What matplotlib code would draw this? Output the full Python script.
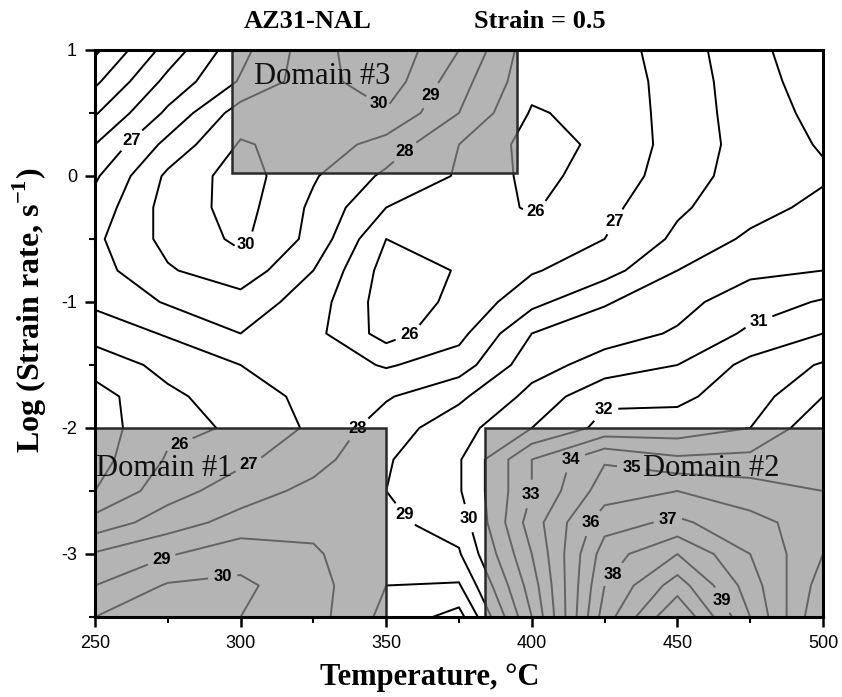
import numpy as np
import matplotlib
matplotlib.use("Agg")
import matplotlib.pyplot as plt
from matplotlib.patches import Rectangle

plt.rcParams['axes.unicode_minus'] = False
plt.rcParams['mathtext.fontset'] = 'custom'
plt.rcParams['mathtext.rm'] = 'Liberation Serif:bold'
plt.rcParams['mathtext.bf'] = 'Liberation Serif:bold'

# ---------------- data ----------------
temperature = [250, 275, 300, 325, 350, 375, 400, 425, 450, 475, 500]
log_rate = [1.0, 0.75, 0.5, 0.25, 0.0, -0.25, -0.5, -0.75, -1.0, -1.25,
            -1.5, -1.75, -2.0, -2.25, -2.5, -2.75, -3.0, -3.25, -3.5]

eta_p100 = [22.8, 25.4, 27.7, 29.6, 30.8, 29.0, 26.4, 26.5, 27.5, 28.7, 29.7]
eta_p075 = [23.8, 26.3, 28.1, 29.6, 30.6, 28.4, 26.3, 26.4, 27.4, 28.6, 29.5]
eta_p050 = [24.9, 27.2, 29.5, 29.7, 29.9, 28.0, 25.9, 26.3, 27.4, 28.5, 29.3]
eta_p025 = [26.0, 28.3, 30.1, 29.6, 28.6, 27.0, 25.6, 26.2, 27.4, 28.4, 29.1]
eta_p000 = [26.85, 29.2, 30.5, 29.1, 27.8, 26.9, 25.7, 26.4, 27.5, 28.5, 28.85]
eta_m025 = [27.4, 29.4, 30.4, 28.8, 27.0, 26.5, 25.9, 26.7, 27.85, 28.6, 29.3]
eta_m050 = [27.8, 29.3, 30.2, 28.7, 26.0, 26.1, 26.4, 27.0, 28.2, 29.2, 29.6]
eta_m075 = [27.6, 28.9, 29.6, 28.0, 25.6, 26.05, 26.9, 27.6, 29.0, 29.8, 30.0]
eta_m100 = [27.2, 28.1, 28.6, 27.5, 25.5, 26.2, 27.7, 28.9, 29.7, 30.5, 31.1]
eta_m125 = [26.4, 27.1, 28.0, 27.3, 25.6, 26.7, 29.0, 29.6, 30.1, 31.2, 32.0]
eta_m150 = [25.4, 26.3, 27.0, 27.6, 26.9, 27.5, 29.6, 30.4, 31.0, 32.3, 33.1]
eta_m175 = [24.6, 25.8, 26.5, 27.3, 27.9, 28.8, 30.3, 31.8, 31.8, 32.5, 34.0]
eta_m200 = [24.5, 25.8, 26.1, 27.2, 28.5, 29.6, 31.0, 32.3, 32.4, 33.0, 34.8]
eta_m225 = [24.6, 26.1, 26.8, 27.6, 28.9, 29.9, 33.0, 34.9, 34.2, 34.3, 35.0]
eta_m250 = [25.0, 26.6, 27.5, 28.3, 29.0, 29.9, 33.0, 35.5, 36.0, 35.5, 35.0]
eta_m275 = [26.4, 27.5, 28.4, 28.8, 28.8, 29.4, 33.5, 36.6, 37.2, 36.3, 35.5]
eta_m300 = [28.1, 28.9, 29.6, 29.1, 28.4, 28.9, 33.0, 37.5, 39.0, 37.0, 35.0]
eta_m325 = [29.0, 30.1, 30.2, 29.4, 28.0, 27.9, 32.5, 38.0, 40.5, 37.5, 34.5]
eta_m350 = [30.0, 30.5, 30.0, 29.4, 27.7, 26.6, 32.0, 38.5, 42.0, 38.0, 34.0]

contour_levels = list(range(23, 43))

# label positions (T, log rate)
label_points = [(260.3, 0.34), (305, -0.61), (358.9, -1.32), (336.9, -1.95),
                (354, -2.73), (376, -2.73), (402.8, -0.33), (429, -0.37),
                (478, -1.16), (424, -1.84),
                (347.9, 0.59), (367.4, 0.61), (358, 0.15),
                (279, -2.13), (304, -2.35), (274, -3.11), (293.6, -3.13),
                (413, -2.21), (400.4, -2.53), (434.0, -2.36), (419.3, -2.73),
                (446.8, -2.73), (426.2, -3.13), (467.4, -3.34)]

domains = ["Domain #1", "Domain #2", "Domain #3"]

# ---------------- figure ----------------
fig = plt.figure(figsize=(8.42, 6.97), dpi=100)
ax = fig.add_axes([95 / 842, 80 / 697, 728 / 842, 567 / 697])

Z = np.array([eta_p100, eta_p075, eta_p050, eta_p025, eta_p000, eta_m025,
              eta_m050, eta_m075, eta_m100, eta_m125, eta_m150, eta_m175,
              eta_m200, eta_m225, eta_m250, eta_m275, eta_m300, eta_m325,
              eta_m350])
T, L = np.meshgrid(temperature, log_rate)

cs = ax.contour(T, L, Z, levels=contour_levels, colors='k', linewidths=1.4)
texts = ax.clabel(cs, manual=label_points, fmt='%d', fontsize=12,
                  inline=True, inline_spacing=4)
for t in texts:
    t.set_fontfamily('Liberation Sans')
    t.set_fontweight('bold')
    t.set_rotation(0)

# gray domain boxes (semi transparent so lines show as gray)
box_specs = [((250, -3.5), 100, 1.5), ((384, -3.5), 116, 1.5), ((297, 0.02), 98, 0.98)]
for (x0, y0), w, h in box_specs:
    ax.add_patch(Rectangle((x0, y0), w, h, facecolor=(146/255, 146/255, 146/255),
                           alpha=0.686, edgecolor='none', zorder=3))
    ax.add_patch(Rectangle((x0, y0), w, h, facecolor='none', edgecolor='#2a2a2a',
                           linewidth=1.8, zorder=4))

dom_pos = [(250.4, -2.32), (438.3, -2.32), (304.6, 0.79)]
for name, (x, y) in zip(domains, dom_pos):
    ax.text(x, y, name, fontfamily='Liberation Serif', fontsize=22,
            color='#111111', zorder=5, va='center', ha='left')

ax.set_xlim(250, 500)
ax.set_ylim(-3.5, 1)
ax.set_xticks([250, 300, 350, 400, 450, 500])
ax.set_xticks([275, 325, 375, 425, 475], minor=True)
ax.set_yticks([1, 0, -1, -2, -3])
ax.set_yticks([0.5, -0.5, -1.5, -2.5, -3.5], minor=True)
ax.set_yticklabels(['1', '0', '-1', '-2', '-3'])
ax.tick_params(which='major', direction='out', length=7, width=1.8,
               labelsize=13, pad=6)
ax.tick_params(which='minor', direction='out', length=4, width=1.5)
for lab in ax.get_xticklabels() + ax.get_yticklabels():
    lab.set_fontfamily('Liberation Sans')
for sp in ax.spines.values():
    sp.set_linewidth(2.2)
    sp.set_zorder(6)

ax.set_xlabel('Temperature, \u00b0C', fontfamily='Liberation Serif',
              fontweight='bold', fontsize=22, va='center')
ax.xaxis.set_label_coords((430 - 95) / 728, -(678 - 617) / 567)
ax.set_ylabel('Log (Strain rate, s$^{-1}$)', fontfamily='Liberation Serif',
              fontweight='bold', fontsize=23, va='center')
ax.yaxis.set_label_coords(-(95 - 30) / 728, (617 - 310) / 567)

fig.text(308 / 842, 1 - 22 / 697, 'AZ31-NAL', fontfamily='Liberation Serif',
         fontweight='bold', fontsize=19, ha='center', va='center')
fig.text(540 / 842, 1 - 22 / 697, 'Strain = 0.5', fontfamily='Liberation Serif',
         fontweight='bold', fontsize=19, ha='center', va='center')

fig.savefig('out.png', dpi=100)
